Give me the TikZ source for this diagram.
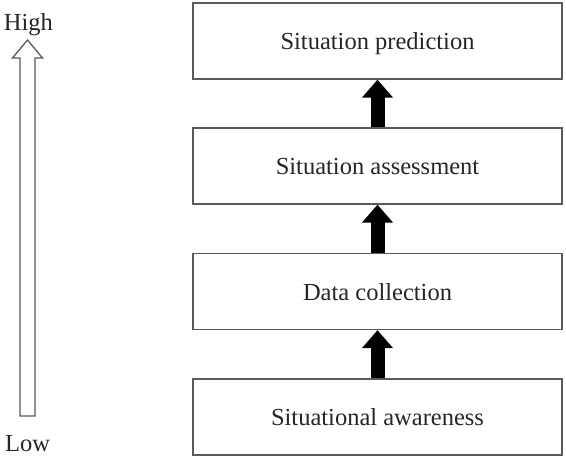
\documentclass[tikz,border=0pt]{standalone}
\usepackage{fontspec}
\setmainfont{Liberation Serif}
\usetikzlibrary{arrows.meta,calc}
\definecolor{boxline}{HTML}{5A5A5A}
\definecolor{txt}{HTML}{262626}
\begin{document}
\begin{tikzpicture}[x=1pt,y=-1pt,
  stagebox/.style={draw=boxline, line width=1.3pt, minimum width=369pt, minimum height=76pt, inner sep=0pt, text height=17pt, text depth=0pt, font=\fontsize{24.5}{28}\selectfont, text=txt},
  level/.style={font=\fontsize{24.5}{28}\selectfont, text=txt, inner sep=0pt, text height=17pt, text depth=0pt},
  bigarrow/.style={line width=14pt, black, -{Triangle[width=30pt 0 0,length=18pt 0 0]}}
]
\useasboundingbox (0,0) rectangle (566,459);
\node[stagebox] (b1) at (377.5,41) {Situation prediction};
\node[stagebox] (b2) at (377.5,166) {Situation assessment};
\node[stagebox] (b3) at (377.5,291.5) {Data collection};
\node[stagebox] (b4) at (377.5,417) {Situational awareness};
\draw[bigarrow] (b2.north) -- (b1.south);
\draw[bigarrow] (b3.north) -- (b2.south);
\draw[bigarrow] (b4.north) -- (b3.south);
\node[level] (high) at (28.5,21.5) {High};
\node[level] (low) at (27.5,442.5) {Low};
\coordinate (tip) at (27.5,40);
\coordinate (base) at (27.5,416);
\draw[draw=boxline, line width=1.3pt, fill=white, line join=miter]
  ($(base)+(-7.5,0)$) -- ($(tip)+(-7.5,18)$) -- ($(tip)+(-15,18)$) -- (tip)
  -- ($(tip)+(15,18)$) -- ($(tip)+(7.5,18)$) -- ($(base)+(7.5,0)$) -- cycle;
\end{tikzpicture}
\end{document}
